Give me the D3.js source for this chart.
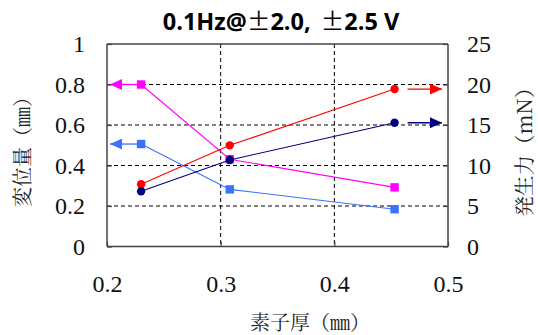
<!DOCTYPE html>
<html><head><meta charset="utf-8">
<script src="https://cdn.jsdelivr.net/npm/d3@7"></script>
<style>body{margin:0;background:#fff}svg{display:block}</style>
</head><body><svg id="chart" width="538" height="335"></svg>
<script>
// Element thickness (mm) and measured results at two drive voltages
const thickness = [0.23, 0.308, 0.453];
const dispHigh = [0.80, 0.431, 0.292];   // displacement (mm), magenta
const dispLow = [0.506, 0.282, 0.184];   // displacement (mm), blue
const forceHigh = [7.68, 12.49, 19.44];  // generated force (mN), red
const forceLow = [6.81, 10.68, 15.28];   // generated force (mN), navy
const xTicks = [0.2, 0.3, 0.4, 0.5];
const yLeftTicks = [0, 0.2, 0.4, 0.6, 0.8, 1];
const yRightTicks = [0, 5, 10, 15, 20, 25];

const svg = d3.select("#chart");
const L = 107, R = 448, T = 44, B = 246.5;
const x = d3.scaleLinear().domain([0.2, 0.5]).range([L, R]);
const yL = d3.scaleLinear().domain([0, 1]).range([B, T]);
const yR = d3.scaleLinear().domain([0, 25]).range([B, T]);

const mincho = "'Noto Serif CJK JP', serif";
const cjkSans = "'Noto Sans CJK JP', sans-serif";

// dashed grid
const grid = svg.append("g").attr("stroke", "#000").attr("stroke-width", 1).attr("stroke-dasharray", "4,3");
grid.selectAll("line.h").data(yLeftTicks.slice(1, -1)).join("line")
  .attr("x1", L).attr("x2", R).attr("y1", d => yL(d)).attr("y2", d => yL(d));
grid.selectAll("line.v").data(xTicks.slice(1, -1)).join("line")
  .attr("y1", T).attr("y2", B).attr("x1", d => x(d)).attr("x2", d => x(d));

// axes with inward ticks
const axL = svg.append("g").attr("transform", `translate(${L},0)`)
  .call(d3.axisLeft(yL).tickValues(yLeftTicks).tickSize(-5).tickPadding(22).tickFormat(d3.format("~g")));
const axR = svg.append("g").attr("transform", `translate(${R},0)`)
  .call(d3.axisRight(yR).tickValues(yRightTicks).tickSize(-5).tickPadding(19).tickFormat(d3.format("~g")));
const axB = svg.append("g").attr("transform", `translate(0,${B})`)
  .call(d3.axisBottom(x).tickValues(xTicks).tickSize(-5).tickPadding(28).tickFormat(d3.format("~g")));
const axT = svg.append("g").attr("transform", `translate(0,${T})`)
  .call(d3.axisTop(x).tickValues(xTicks).tickSize(0).tickFormat(""));
[axL, axR, axB, axT].forEach(a => {
  a.attr("font-family", null).attr("font-size", null);
  a.select(".domain").attr("stroke", "#444").attr("stroke-width", 1.5);
  a.selectAll(".tick line").attr("stroke", "#444").attr("stroke-width", 1.2);
  a.selectAll(".tick text")
    .style("font-family", "'Liberation Serif'")
    .style("font-size", "24px")
    .style("fill", "#111");
});
axL.select(".domain").attr("d", `M0,${B}V${T}`);
axR.select(".domain").attr("d", `M0,${B}V${T}`);
axB.select(".domain").attr("d", `M${L},0H${R}`);
axT.select(".domain").attr("d", `M${L},0H${R}`);

// arrow heads
const defs = svg.append("defs");
function arrowHead(id, color) {
  defs.append("marker").attr("id", id).attr("viewBox", "0 0 12 11")
    .attr("refX", 12).attr("refY", 5.5).attr("markerWidth", 12).attr("markerHeight", 11)
    .attr("markerUnits", "userSpaceOnUse").attr("orient", "auto")
    .append("path").attr("d", "M0,0L12,5.5L0,11Z").attr("fill", color);
}

const series = [
  { vals: dispHigh, y: yL, color: "#ff00ff", shape: "square", side: "left" },
  { vals: dispLow, y: yL, color: "#3a72ff", shape: "square", side: "left" },
  { vals: forceHigh, y: yR, color: "#ff0000", shape: "circle", side: "right" },
  { vals: forceLow, y: yR, color: "#000080", shape: "circle", side: "right" }
];

series.forEach((s, i) => {
  const pts = thickness.map((t, j) => [x(t), s.y(s.vals[j])]);
  svg.append("path").attr("d", d3.line()(pts)).attr("fill", "none")
    .attr("stroke", s.color).attr("stroke-width", 1.1);
  // arrow pointing to the axis the series is read from
  const id = "arr" + i;
  arrowHead(id, s.color);
  if (s.side === "left") {
    const p = pts[0];
    svg.append("line").attr("x1", p[0] - 4).attr("y1", p[1]).attr("x2", L + 3).attr("y2", p[1])
      .attr("stroke", s.color).attr("stroke-width", 1.3).attr("marker-end", `url(#${id})`);
  } else {
    const p = pts[pts.length - 1];
    svg.append("line").attr("x1", p[0] + 13).attr("y1", p[1]).attr("x2", R - 6).attr("y2", p[1])
      .attr("stroke", s.color).attr("stroke-width", 1.3).attr("marker-end", `url(#${id})`);
  }
  if (s.shape === "square") {
    svg.append("g").selectAll("rect").data(pts).join("rect")
      .attr("x", d => d[0] - 4.2).attr("y", d => d[1] - 4.2).attr("width", 8.4).attr("height", 8.4)
      .attr("fill", s.color);
  } else {
    svg.append("g").selectAll("circle").data(pts).join("circle")
      .attr("cx", d => d[0]).attr("cy", d => d[1]).attr("r", 4.2).attr("fill", s.color);
  }
});

// title
const title = svg.append("text").attr("x", 281).attr("y", 30).attr("text-anchor", "middle")
  .attr("font-family", "'Open Sans', 'Liberation Sans', sans-serif").attr("font-weight", "bold")
  .attr("font-size", 23.5).attr("fill", "#000");
title.append("tspan").text("0.1Hz@");
title.append("tspan").attr("font-family", cjkSans).attr("font-weight", "normal").text("±");
title.append("tspan").text("2.0, ");
title.append("tspan").attr("font-family", cjkSans).attr("font-weight", "normal").attr("dx", 4).text("±");
title.append("tspan").text("2.5 V");

// axis titles
svg.append("text").attr("transform", "translate(30,147) rotate(-90)").attr("text-anchor", "middle")
  .attr("font-family", mincho).attr("font-size", 20).attr("fill", "#222")
  .text("変位量（㎜）");
svg.append("text").attr("transform", "translate(532,147) rotate(-90)").attr("text-anchor", "middle")
  .attr("font-family", mincho).attr("font-size", 20.5).attr("fill", "#222")
  .text("発生力（mN）");
svg.append("text").attr("x", 310).attr("y", 330).attr("text-anchor", "middle")
  .attr("font-family", mincho).attr("font-size", 20).attr("fill", "#222")
  .text("素子厚（㎜）");
</script></body></html>
